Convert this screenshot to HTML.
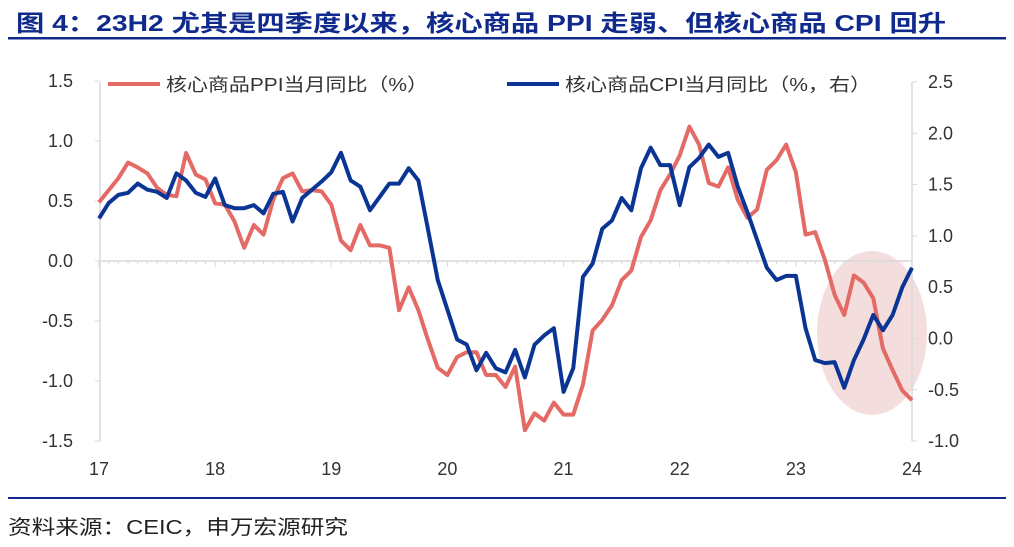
<!DOCTYPE html>
<html><head><meta charset="utf-8"><style>
body{margin:0;background:#fff;width:1014px;height:542px;overflow:hidden;font-family:"Liberation Sans","Noto Sans CJK SC",sans-serif}
</style></head><body>
<svg width="1014" height="542" xmlns="http://www.w3.org/2000/svg" font-family="Liberation Sans, Noto Sans CJK SC, sans-serif">
<text x="16" y="31" font-size="23" font-weight="bold" fill="#0f2a8c" textLength="930" lengthAdjust="spacingAndGlyphs">图 4：23H2 尤其是四季度以来，核心商品 PPI 走弱、但核心商品 CPI 回升</text>
<rect x="8" y="37" width="998" height="2.5" fill="#0f2a8c"/>
<rect x="8" y="497" width="998" height="2" fill="#0f2a8c"/>
<text x="8" y="534" font-size="20" fill="#222" textLength="340" lengthAdjust="spacingAndGlyphs">资料来源：CEIC，申万宏源研究</text>
<g id="plot"></g>
</svg>
<script>
const years=['17','18','19','20','21','22','23','24'];
const leftTicks=[1.5,1.0,0.5,0.0,-0.5,-1.0,-1.5];
const rightTicks=[2.5,2.0,1.5,1.0,0.5,0.0,-0.5,-1.0];
const ppi=[0.49,0.59,0.69,0.82,0.78,0.73,0.61,0.55,0.54,0.90,0.72,0.68,
0.48,0.47,0.33,0.11,0.30,0.22,0.51,0.69,0.73,0.58,0.59,0.58,
0.47,0.17,0.09,0.30,0.13,0.13,0.11,-0.41,-0.22,-0.41,-0.66,-0.89,
-0.95,-0.80,-0.76,-0.76,-0.95,-0.95,-1.05,-0.88,-1.41,-1.27,-1.33,-1.18,
-1.28,-1.28,-1.03,-0.58,-0.49,-0.37,-0.16,-0.08,0.20,0.34,0.59,0.72,
0.88,1.12,0.97,0.65,0.62,0.78,0.51,0.36,0.43,0.76,0.84,0.97,
0.74,0.22,0.24,0.01,-0.28,-0.45,-0.12,-0.18,-0.31,-0.73,-0.91,-1.08,-1.16];
const cpi=[1.17,1.32,1.40,1.42,1.51,1.45,1.43,1.37,1.61,1.54,1.42,1.38,
1.56,1.30,1.27,1.27,1.30,1.22,1.41,1.43,1.14,1.37,1.45,1.53,
1.62,1.81,1.54,1.48,1.25,1.38,1.51,1.51,1.66,1.54,1.06,0.57,
0.28,-0.01,-0.06,-0.31,-0.14,-0.29,-0.33,-0.11,-0.38,-0.06,0.03,0.10,
-0.52,-0.29,0.60,0.73,1.07,1.15,1.37,1.25,1.66,1.86,1.69,1.69,
1.30,1.67,1.76,1.89,1.77,1.81,1.48,1.23,0.96,0.69,0.57,0.61,
0.61,0.10,-0.21,-0.24,-0.23,-0.48,-0.21,-0.01,0.23,0.08,0.23,0.50,0.69];
const NS='http://www.w3.org/2000/svg';
const g=document.getElementById('plot');
const X0=99,X1=912;
const xm=i=>X0+(X1-X0)*i/84;
const yl=v=>261-v*120;
const yr=v=>82+(2.5-v)*102.6;
function mk(t,a){const e=document.createElementNS(NS,t);for(const k in a)e.setAttribute(k,a[k]);g.appendChild(e);return e;}
let e=mk('ellipse',{cx:872,cy:333,rx:55,ry:82,fill:'#f2d7d7',opacity:0.85});


e=mk('line',{x1:X0+1,y1:82,x2:X0+1,y2:441,stroke:'#d9d9d9','stroke-width':1.5});


e=mk('line',{x1:X1,y1:82,x2:X1,y2:441,stroke:'#d9d9d9','stroke-width':1.5});


e=mk('line',{x1:X0,y1:261,x2:X1,y2:261,stroke:'#d9d9d9','stroke-width':1.5});


for(let i=0;i<=84;i++){
 e=mk('line',{x1:xm(i),y1:261,x2:xm(i),y2:i%12==0?267:264,stroke:'#d9d9d9','stroke-width':1});
 
 
}
leftTicks.forEach(v=>{
 e=mk('line',{x1:X0-4,y1:yl(v),x2:X0+1,y2:yl(v),stroke:'#d9d9d9'});
 
 
 e=mk('text',{x:73,y:yl(v)+6,'font-size':18,fill:'#333','text-anchor':'end'});
 e.textContent=v.toFixed(1);
 
 
});
rightTicks.forEach(v=>{
 e=mk('line',{x1:X1,y1:yr(v),x2:X1+5,y2:yr(v),stroke:'#d9d9d9'});
 
 
 e=mk('text',{x:928,y:yr(v)+6,'font-size':18,fill:'#333'});
 e.textContent=v.toFixed(1);
 
 
});
years.forEach((y,i)=>{
 e=mk('text',{x:xm(i*12),y:475,'font-size':18,fill:'#333','text-anchor':'middle'});
 e.textContent=y;
 
 
});
e=mk('polyline',{points:ppi.map((v,i)=>xm(i)+','+yl(v)).join(' '),fill:'none',stroke:'#e46a66','stroke-width':4,'stroke-linejoin':'round'});


e=mk('polyline',{points:cpi.map((v,i)=>xm(i)+','+yr(v)).join(' '),fill:'none',stroke:'#0a3594','stroke-width':4,'stroke-linejoin':'round'});


e=mk('line',{x1:108,y1:84,x2:160,y2:84,stroke:'#e46a66','stroke-width':4});


e=mk('text',{x:166,y:91,'font-size':18,fill:'#333',textLength:262,lengthAdjust:'spacingAndGlyphs'});
e.textContent='核心商品PPI当月同比（%）';


e=mk('line',{x1:507,y1:84,x2:559,y2:84,stroke:'#0a3594','stroke-width':4});


e=mk('text',{x:565,y:91,'font-size':18,fill:'#333',textLength:306,lengthAdjust:'spacingAndGlyphs'});
e.textContent='核心商品CPI当月同比（%，右）';


</script>
</body></html>
